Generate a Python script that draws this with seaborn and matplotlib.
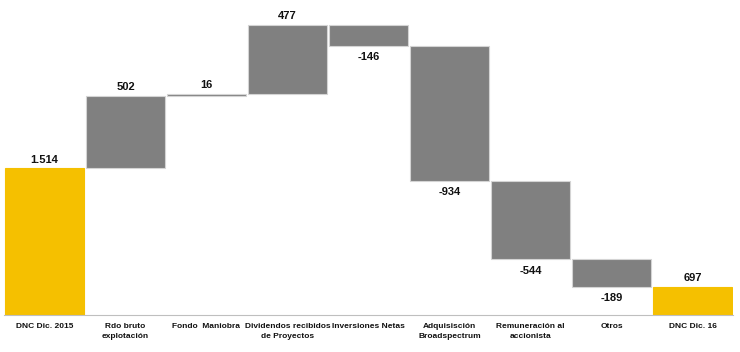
import numpy as np
import pandas as pd
import matplotlib.pyplot as plt
import seaborn as sns

# --- データ ---
categories = ['DNC Dic. 2015', 'Rdo bruto\nexplotación', 'Fondo  Maniobra',
              'Dividendos recibidos\nde Proyectos', 'Inversiones Netas',
              'Adquisisción\nBroadspectrum', 'Remuneración al\naccionista',
              'Otros', 'DNC Dic. 16']
values = [1514, 502, 16, 477, -146, -934, -544, -189, 697]
value_labels = ['1.514', '502', '16', '477', '-146', '-934', '-544', '-189', '697']
is_total = [True, False, False, False, False, False, False, False, True]

YELLOW = '#F5C000'
GRAY = '#808080'

# --- ウォーターフォールの計算 ---
bottoms = []
heights = []
running = 0
for v, tot in zip(values, is_total):
    if tot:
        bottoms.append(0)
        heights.append(v)
        running = v
    else:
        start = running
        running = running + v
        bottoms.append(min(start, running))
        heights.append(abs(v))

df = pd.DataFrame({'cat': categories, 'height': heights})

sns.set_style('white')
plt.rcParams['font.family'] = ['Liberation Sans', 'DejaVu Sans']

fig = plt.figure(figsize=(7.40, 3.52), dpi=100)
ax = fig.add_axes([4 / 740, 1 - 315 / 352, 729 / 740, 315 / 352])

sns.barplot(data=df, x='cat', y='height', bottom=np.array(bottoms),
            color=GRAY, width=0.98, edgecolor='#d4d4d4', linewidth=0.8,
            saturation=1, ax=ax)

for patch, tot in zip(ax.patches, is_total):
    patch.set_facecolor(YELLOW if tot else GRAY)
    if tot:
        patch.set_edgecolor(YELLOW)

ax.set_ylim(500, 2680)
ax.set_xlim(-0.5, len(categories) - 0.5)

# 数値ラベル
for i, (v, b, h, lab) in enumerate(zip(values, bottoms, heights, value_labels)):
    if v >= 0:
        ax.annotate(lab, (i, b + h), xytext=(0, 2.5), textcoords='offset points',
                    ha='center', va='bottom', fontsize=8, fontweight='bold', color='#111111')
    else:
        ax.annotate(lab, (i, b), xytext=(0, -4.5), textcoords='offset points',
                    ha='center', va='top', fontsize=8, fontweight='bold', color='#111111')

# 軸の設定
for s in ['top', 'right', 'left']:
    ax.spines[s].set_visible(False)
ax.spines['bottom'].set_color('#bfbfbf')
ax.spines['bottom'].set_linewidth(0.8)
ax.set_yticks([])
ax.set_xlabel('')
ax.set_ylabel('')
ax.set_xticks(range(len(categories)))
ax.set_xticklabels(categories, fontsize=6, fontweight='bold', color='#111111',
                   linespacing=1.5)
ax.tick_params(axis='x', which='major', length=0, pad=6)
ax.set_xticks(np.arange(-0.5, len(categories), 1), minor=True)
ax.tick_params(axis='x', which='minor', length=4, color='#bfbfbf', width=0.8)

plt.savefig('out.png', dpi=100)
